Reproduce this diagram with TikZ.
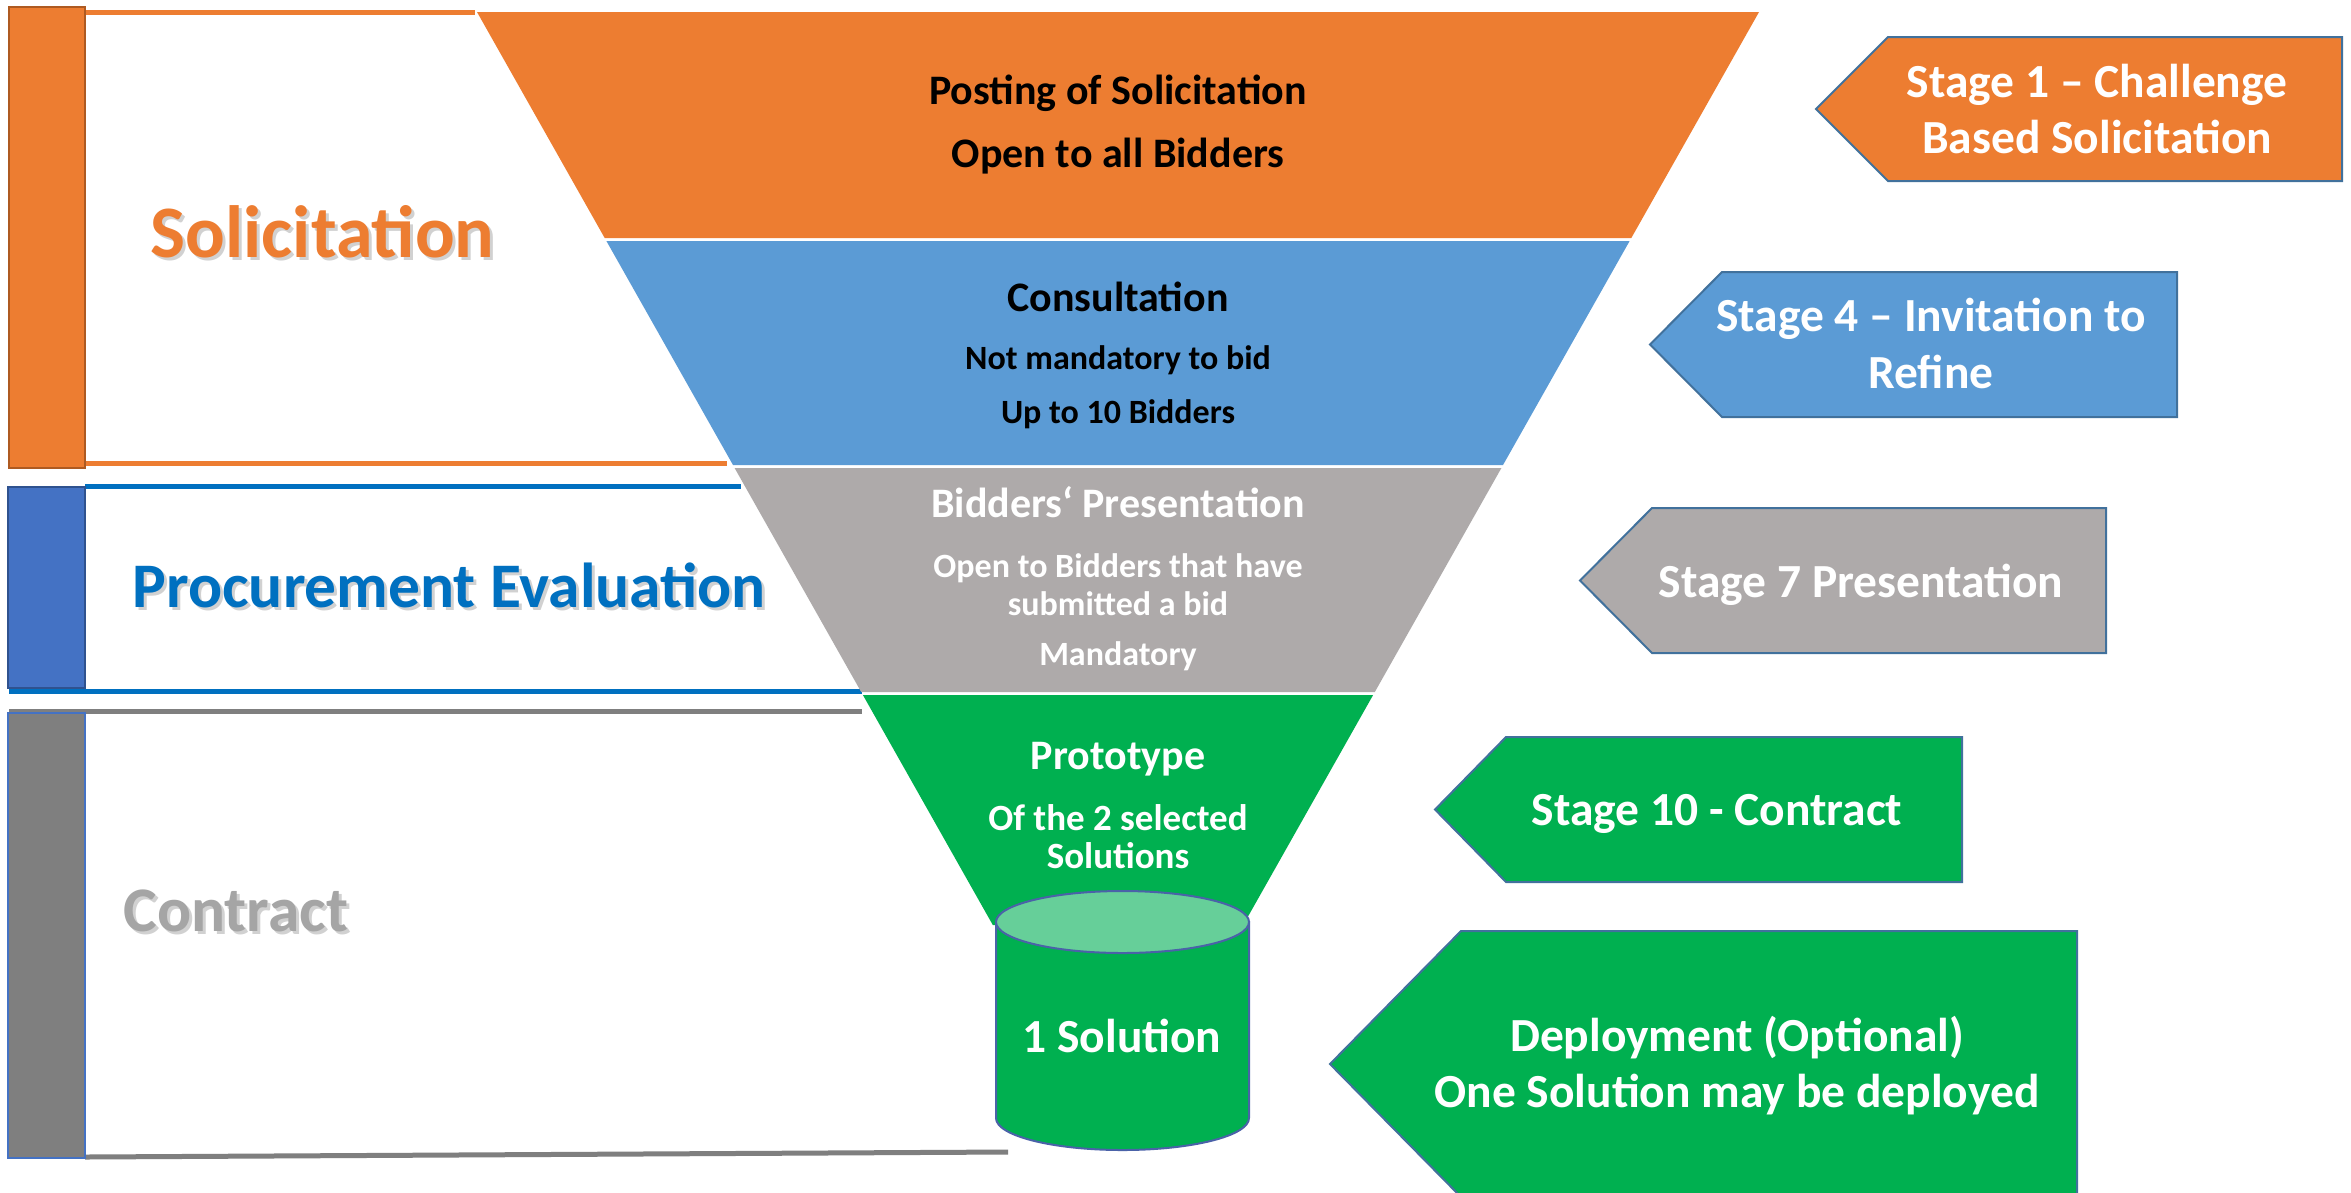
\documentclass[tikz,border=0pt]{standalone}
\usepackage{fontspec}
\setmainfont{Carlito}
\definecolor{cOrange}{HTML}{ED7D31}
\definecolor{cOrangeDk}{HTML}{AE5A21}
\definecolor{cBlueBand}{HTML}{5B9BD5}
\definecolor{cBlueBar}{HTML}{4472C4}
\definecolor{cBlueBarDk}{HTML}{2F528F}
\definecolor{cBlueTxt}{HTML}{0070C0}
\definecolor{cGrayBand}{HTML}{AEAAAA}
\definecolor{cGrayBar}{HTML}{7F7F7F}
\definecolor{cGrayTxt}{HTML}{A5A5A5}
\definecolor{cGreen}{HTML}{00B050}
\definecolor{cGreenLt}{HTML}{66CF99}
\definecolor{cOutline}{HTML}{41719C}
\definecolor{cCylOut}{HTML}{4A62A8}
\definecolor{cShadow}{HTML}{8C8C8C}
\newcommand{\stagearrow}[6]{%
  \path[fill=#6, draw=cOutline, line width=0.6pt, line join=miter]
    (#1,{(#4+#5)/2}) -- (#2,#4) -- (#3,#4) -- (#3,#5) -- (#2,#5) -- cycle;}
\begin{document}
\begin{tikzpicture}[x=0.3pt,y=-0.3pt,
  fA/.style={font=\bfseries\fontsize{12.6}{15}\selectfont},
  fB/.style={font=\bfseries\fontsize{10.2}{12}\selectfont},
  fC/.style={font=\bfseries\fontsize{11.1}{13}\selectfont},
  fD/.style={font=\bfseries\fontsize{14.25}{17}\selectfont},
  fE/.style={font=\bfseries\fontsize{22.2}{26}\selectfont},
  fF/.style={font=\bfseries\fontsize{19.05}{23}\selectfont},
  ln/.style={anchor=base, inner sep=0pt},
  big/.style={anchor=base west, inner sep=0pt},
  shadow/.style={text=cShadow, opacity=0.4},
  sline/.style={line width=1.5pt, line cap=butt}]
\useasboundingbox (0,0) rectangle (2351,1192);
\clip (0,0) rectangle (2351,1192);
\fill[white] (0,0) rectangle (2351,1192);

% ---- left bars and bracket lines
\draw[sline, cOrange] (85,12) -- (475,12);
\draw[sline, cOrange] (85,463) -- (727,463);
\path[fill=cOrange, draw=cOrangeDk, line width=0.6pt] (9,7) rectangle (85,468);

\draw[sline, cBlueTxt] (85,486) -- (741,486);
\draw[sline, cBlueTxt] (9,691) -- (862,691);
\path[fill=cBlueBar, draw=cBlueBarDk, line width=0.6pt] (8,487) rectangle (85,688);

\draw[sline, cGrayBar] (9,711) -- (862,711);
\draw[sline, cGrayBar] (85,1157) -- (1008,1152);
\path[fill=cGrayBar, draw=cBlueBar, line width=0.4pt] (8,713) rectangle (85,1158);

% ---- funnel bands
\fill[cOrange]   (477,12)    -- (1759,12)    -- (1631.3,238) -- (604.7,238) -- cycle;
\fill[cBlueBand] (606.4,241) -- (1629.6,241) -- (1503,465)    -- (733,465)   -- cycle;
\fill[cGrayBand] (734.6,468) -- (1501.4,468) -- (1374.8,692)  -- (861.2,692) -- cycle;
\fill[cGreen]    (862.9,695) -- (1373.1,695) -- (1243.2,925)  -- (992.8,925) -- cycle;

% ---- cylinder
\path[fill=cGreen, draw=cCylOut, line width=0.6pt]
  (996,922) -- (996,1118) arc[start angle=180, end angle=0, x radius=126.5, y radius=32]
  -- (1249,922) -- cycle;
\path[fill=cGreenLt, draw=cCylOut, line width=0.6pt]
  (1122.5,922) ellipse[x radius=126.5, y radius=31];
\node[ln, fD, text=white] (sol) at (1122,1052) {1 Solution};

% ---- funnel texts
\node[ln, fA] (post) at (1118,104) {Posting of Solicitation};
\node[ln, fA] (open) at (1118,167) {Open to all Bidders};

\node[ln, fA] (cons) at (1118,311) {Consultation};
\node[ln, fB] (notm) at (1118,369) {Not mandatory to bid};
\node[ln, fB] (upto) at (1118,423) {Up to 10 Bidders};

\node[ln, fA, text=white] (bpres) at (1118,517) {Bidders‘ Presentation};
\node[ln, fB, text=white] (obid) at (1118,577) {Open to Bidders that have};
\node[ln, fB, text=white] (subm) at (1118,615) {submitted a bid};
\node[ln, fB, text=white] (mand) at (1118,665) {Mandatory};

\node[ln, fA, text=white] (proto) at (1118,769) {Prototype};
\node[ln, fC, text=white] (ofthe) at (1118,830) {Of the 2 selected};
\node[ln, fC, text=white] (sols) at (1118,868) {Solutions};

% ---- stage arrows
\stagearrow{1816}{1888}{2342}{37}{181}{cOrange}
\node[ln, fD, text=white] (s1a) at (2097,97) {Stage 1 – Challenge};
\node[ln, fD, text=white] (s1b) at (2097,153) {Based Solicitation};

\stagearrow{1650}{1722}{2177}{272}{417}{cBlueBand}
\node[ln, fD, text=white] (s4a) at (1931,331) {Stage 4 – Invitation to};
\node[ln, fD, text=white] (s4b) at (1931,388) {Refine};

\stagearrow{1580}{1652}{2106}{508}{653}{cGrayBand}
\node[ln, fD, text=white] (s7) at (1861,597) {Stage 7 Presentation};

\stagearrow{1435}{1506}{1962}{737}{882}{cGreen}
\node[ln, fD, text=white] (s10) at (1717,825) {Stage 10 - Contract};

\stagearrow{1330}{1461}{2077}{931}{1197}{cGreen}
\node[ln, fD, text=white] (depa) at (1737,1051) {Deployment (Optional)};
\node[ln, fD, text=white] (depb) at (1737,1107) {One Solution may be deployed};

% ---- big left labels with shadow
\node[big, fE, shadow] (solsh) at (153,260) {Solicitation};
\node[big, fE, text=cOrange] (solt) at (150,257) {Solicitation};
\node[big, fF, shadow] (procsh) at (135,610) {Procurement Evaluation};
\node[big, fF, text=cBlueTxt] (proct) at (132,607) {Procurement Evaluation};
\node[big, fF, shadow] (consh) at (126,934) {Contract};
\node[big, fF, text=cGrayTxt] (cont) at (123,931) {Contract};
\end{tikzpicture}
\end{document}
